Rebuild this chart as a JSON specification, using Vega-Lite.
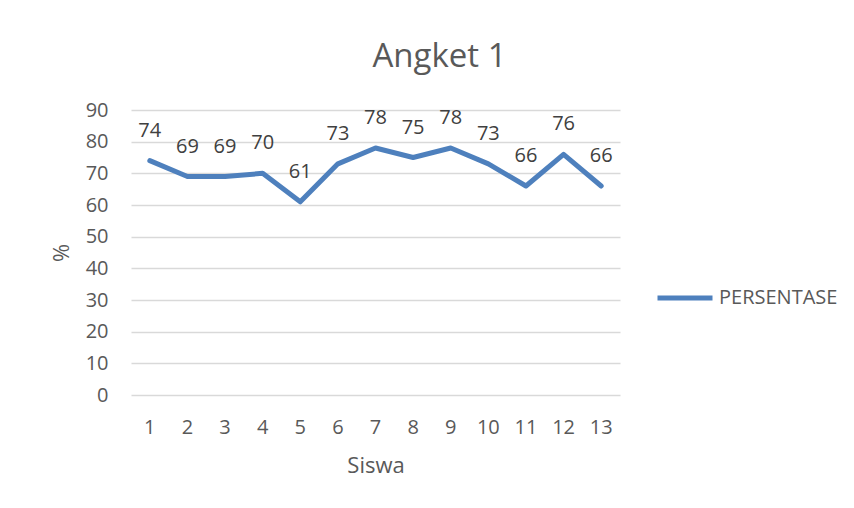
{
  "$schema": "https://vega.github.io/schema/vega-lite/v6.json",
  "autosize": "none",
  "width": 489,
  "height": 285,
  "padding": {"left": 131, "top": 110, "right": 234, "bottom": 113},
  "background": "white",
  "title": {"text": "Angket 1", "fontSize": 33, "font": "Open Sans", "fontWeight": "normal", "color": "#595959", "offset": 26, "anchor": "middle", "dx": 64},
  "data": {"values": [
    {"siswa": "1", "persen": 74, "series": "PERSENTASE"},
    {"siswa": "2", "persen": 69, "series": "PERSENTASE"},
    {"siswa": "3", "persen": 69, "series": "PERSENTASE"},
    {"siswa": "4", "persen": 70, "series": "PERSENTASE"},
    {"siswa": "5", "persen": 61, "series": "PERSENTASE"},
    {"siswa": "6", "persen": 73, "series": "PERSENTASE"},
    {"siswa": "7", "persen": 78, "series": "PERSENTASE"},
    {"siswa": "8", "persen": 75, "series": "PERSENTASE"},
    {"siswa": "9", "persen": 78, "series": "PERSENTASE"},
    {"siswa": "10", "persen": 73, "series": "PERSENTASE"},
    {"siswa": "11", "persen": 66, "series": "PERSENTASE"},
    {"siswa": "12", "persen": 76, "series": "PERSENTASE"},
    {"siswa": "13", "persen": 66, "series": "PERSENTASE"}
  ]},
  "encoding": {
    "x": {"field": "siswa", "type": "ordinal", "sort": null,
      "scale": {"type": "band", "paddingInner": 0, "paddingOuter": 0},
      "axis": {"title": "Siswa", "labelAngle": 0, "ticks": false, "domain": false, "grid": false,
        "labelFont": "Open Sans", "labelFontSize": 20, "labelColor": "#595959", "labelPadding": 22,
        "titleFont": "Open Sans", "titleFontSize": 22, "titleFontWeight": "normal", "titleColor": "#595959", "titlePadding": 18}},
    "y": {"field": "persen", "type": "quantitative",
      "scale": {"domain": [0, 90], "nice": false},
      "axis": {"title": "%", "values": [0,10,20,30,40,50,60,70,80,90], "ticks": false, "domain": false,
        "grid": true, "gridColor": "#d9d9d9", "gridWidth": 1.3,
        "labelFont": "Open Sans", "labelFontSize": 20, "labelColor": "#595959", "labelPadding": 23,
        "titleFont": "Open Sans", "titleFontSize": 22, "titleFontWeight": "normal", "titleColor": "#595959", "titlePadding": 12}}
  },
  "layer": [
    {"mark": {"type": "line", "strokeWidth": 5, "strokeCap": "round", "strokeJoin": "round"},
     "encoding": {"color": {"field": "series", "type": "nominal",
       "scale": {"range": ["#4E80BD"]},
       "legend": {"title": null, "orient": "none", "legendX": 524, "legendY": 158,
         "symbolType": "stroke", "symbolSize": 3025, "symbolStrokeWidth": 5,
         "labelFont": "Open Sans", "labelFontSize": 20, "labelColor": "#595959", "labelOffset": 4}}}},
    {"mark": {"type": "text", "dy": -30, "font": "Open Sans", "fontSize": 20, "color": "#404040"},
     "encoding": {"text": {"field": "persen", "type": "quantitative"}}}
  ],
  "config": {"view": {"stroke": null}}
}
